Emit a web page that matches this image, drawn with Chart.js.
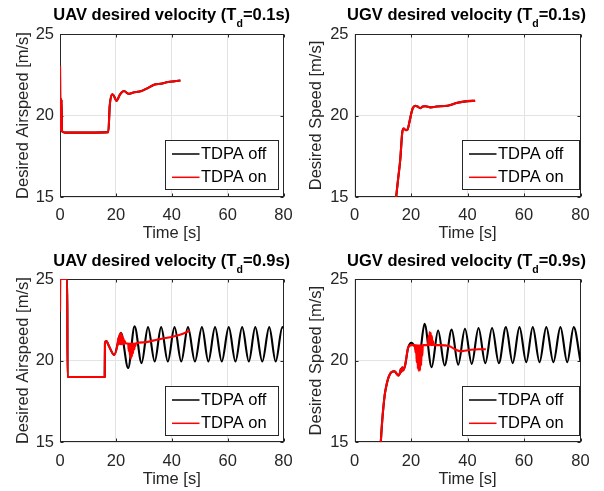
<!DOCTYPE html>
<html>
<head>
<meta charset="utf-8">
<script src="https://cdn.jsdelivr.net/npm/chart.js@4.4.1/dist/chart.umd.min.js"></script>
<style>
  body { margin: 0; background: #fff; width: 604px; height: 491px; position: relative; overflow: hidden;
         font-family: "Liberation Sans", Arial, sans-serif; }
  canvas { position: absolute; }
  .ttl { position: absolute; width: 300px; text-align: center; white-space: nowrap;
         font-weight: bold; font-size: 16.5px; line-height: 16.5px; color: #000; }
  .ttl sub { font-size: 10.5px; vertical-align: -7px; line-height: 0; }
</style>
</head>
<body>
<canvas id="uav01" width="302" height="245" style="left:0;top:0"></canvas>
<canvas id="ugv01" width="302" height="245" style="left:302px;top:0"></canvas>
<canvas id="uav09" width="302" height="246" style="left:0;top:245px"></canvas>
<canvas id="ugv09" width="302" height="246" style="left:302px;top:245px"></canvas>
<div class="ttl" style="left:21.75px;top:6px">UAV desired velocity (T<sub>d</sub>=0.1s)</div>
<div class="ttl" style="left:316.5px;top:6px">UGV desired velocity (T<sub>d</sub>=0.1s)</div>
<div class="ttl" style="left:21.75px;top:252px">UAV desired velocity (T<sub>d</sub>=0.9s)</div>
<div class="ttl" style="left:316.5px;top:252px">UGV desired velocity (T<sub>d</sub>=0.9s)</div>
<script>
// axis ticks
const xTicks = [0, 20, 40, 60, 80];
const yTicks = [15, 20, 25];
const seriesLabels = ['TDPA off', 'TDPA on'];

// UAV, Td = 0.1 s (both runs overlap)
const uav01T = [0, 0.15, 0.35, 0.55, 0.7, 0.9, 2, 10, 17.3, 17.8, 18.7, 19.3, 20.2, 21.5, 22.9, 24.6, 26, 29.2, 31, 33.9, 36, 38.7, 41, 43.1];
const uav01V = [23.05, 19.2, 19.1, 21.0, 19.1, 19.0, 18.95, 18.95, 18.98, 20.6, 21.3, 21.2, 20.9, 21.3, 21.5, 21.33, 21.4, 21.5, 21.65, 21.9, 21.95, 22.05, 22.1, 22.15];

// UGV, Td = 0.1 s (both runs overlap)
const ugv01T = [14.75, 15.5, 16.2, 16.9, 17.4, 18.2, 18.8, 19.5, 20.2, 20.7, 21.5, 22.3, 23.3, 24.2, 25.1, 26.9, 29, 32.9, 36.4, 40, 42.7];
const ugv01V = [15, 16.2, 17.3, 18.95, 19.2, 19.1, 19.15, 19.65, 20.2, 20.47, 20.6, 20.55, 20.45, 20.55, 20.57, 20.5, 20.55, 20.6, 20.78, 20.88, 20.9];

// UAV, Td = 0.9 s
const uav09OffT = [0, 0.05, 2.6, 2.7, 16.0, 16.1, 16.6, 17.5, 19.4, 21.8, 24.4, 26.7, 29.2, 31.5, 33.9, 36.2, 38.6, 41.0, 43.4, 45.8, 48.3, 50.8, 53.1, 55.5, 57.9, 60.4, 62.8, 65.2, 67.6, 69.9, 72.4, 74.9, 77.2, 79.6, 80];
const uav09OffV = [23.0, 25, 25, 19.0, 19.0, 21.1, 21.2, 20.9, 20.35, 21.7, 19.55, 22.1, 19.85, 22.05, 19.95, 22.05, 19.95, 22.05, 19.95, 22.05, 19.95, 22.05, 19.95, 22.05, 19.95, 22.05, 19.95, 22.05, 19.95, 22.05, 19.95, 22.05, 19.95, 22.05, 22.0];
const uav09OnT = [0, 0.05, 2.6, 2.7, 16.0, 16.1, 16.6, 17.5, 19.4,
  20.6, 20.9, 21.1, 21.4, 21.6, 21.85, 22.05, 22.3, 22.5, 22.75, 22.95, 23.2, 23.5,
  24.4, 24.6, 24.8, 25.0, 25.2, 25.35, 25.55, 25.75, 25.95, 26.15, 26.35, 26.6, 26.8, 27.0, 27.2,
  30, 35, 41, 44, 46.4];
const uav09OnV = [23.0, 25, 25, 19.0, 19.0, 21.1, 21.2, 20.9, 20.35,
  21.0, 21.4, 21.0, 21.65, 21.0, 21.7, 21.0, 21.55, 21.02, 21.35, 21.03, 21.2, 21.05,
  21.05, 20.6, 21.05, 20.3, 21.05, 20.1, 21.05, 20.25, 21.05, 20.45, 21.05, 20.7, 21.05, 20.9, 21.07,
  21.12, 21.3, 21.5, 21.65, 21.83];

// UGV, Td = 0.9 s
const ugv09OffT = [9.3, 9.8, 10.7, 11.2, 11.9, 13.1, 14.2, 14.9, 15.6, 16.1, 16.4, 16.6, 16.9, 17.2, 17.9, 19.0, 20.2, 21.2, 22.9, 24.8, 27.3, 29.6, 31.9, 34.4, 36.7, 39.1, 41.5, 43.9, 46.3, 48.7, 51.1, 53.6, 56.0, 58.4, 60.8, 63.1, 65.5, 67.9, 70.4, 72.9, 75.3, 77.6, 80];
const ugv09OffV = [15, 16.3, 17.9, 18.4, 18.9, 19.3, 19.35, 19.2, 19.1, 19.25, 19.5, 19.3, 19.6, 19.4, 19.7, 20.8, 21.1, 20.9, 20.3, 22.25, 19.6, 21.85, 19.7, 21.9, 19.75, 21.95, 19.8, 22.0, 19.85, 22.0, 19.85, 22.05, 19.85, 22.05, 19.9, 22.05, 19.9, 22.05, 19.9, 22.05, 19.9, 22.05, 19.95];
const ugv09OnT = [9.3, 9.8, 10.7, 11.2, 11.9, 13.1, 14.2, 14.9, 15.6, 16.1, 16.4, 16.6, 16.9, 17.2, 17.9, 19.0, 20.2,
  21.4, 21.6, 21.8, 22.0, 22.2, 22.4, 22.6, 22.8, 23.0, 23.2, 23.4, 23.6, 23.8, 24.0, 24.2,
  26.0, 26.2, 26.4, 26.6, 26.8, 27.0, 27.2, 27.4, 27.6, 27.8, 28.0,
  30, 33.5, 35.5, 37.6, 39.5, 41.2, 44, 46.5];
const ugv09OnV = [15, 16.3, 17.9, 18.4, 18.9, 19.3, 19.35, 19.2, 19.1, 19.25, 19.5, 19.3, 19.6, 19.4, 19.7, 20.8, 20.95,
  20.95, 20.5, 20.95, 19.9, 20.95, 19.5, 20.95, 19.35, 20.95, 19.4, 20.95, 19.7, 20.95, 20.3, 20.95,
  20.95, 21.5, 20.95, 21.75, 20.95, 21.7, 20.95, 21.5, 20.95, 21.2, 20.95,
  20.95, 20.9, 20.7, 20.57, 20.62, 20.67, 20.7, 20.7];

Chart.defaults.font.family = '"Liberation Sans", Arial, sans-serif';
Chart.defaults.font.size = 16.5;
Chart.defaults.color = '#262626';

const pts = (T, V) => T.map((t, i) => ({ x: t, y: V[i] }));

// box around the axes with small inward ticks (under the data), then the MATLAB-style legend
const framePlugin = {
  id: 'frame',
  beforeDatasetsDraw(chart) {
    const { ctx, chartArea: a, scales: { x, y } } = chart;
    const L = Math.round(a.left) + 0.5, R = Math.round(a.right) - 0.5;
    const T = Math.round(a.top) + 0.5, B = Math.round(a.bottom) - 0.5;
    ctx.save();
    ctx.strokeStyle = '#262626';
    ctx.lineWidth = 1;
    ctx.beginPath();
    x.ticks.forEach(t => {
      const px = Math.round(x.getPixelForValue(t.value)) + 0.5;
      ctx.moveTo(px, B); ctx.lineTo(px, B - 3);
      ctx.moveTo(px, T); ctx.lineTo(px, T + 3);
    });
    y.ticks.forEach(t => {
      const py = Math.round(y.getPixelForValue(t.value)) + 0.5;
      ctx.moveTo(L, py); ctx.lineTo(L + 3, py);
      ctx.moveTo(R, py); ctx.lineTo(R - 3, py);
    });
    ctx.stroke();
    ctx.strokeRect(L, T, R - L, B - T);
    ctx.restore();
  },
  afterDatasetsDraw(chart, args, opts) {
    const { ctx, chartArea: a } = chart;
    const lr = Math.round(a.right - opts.inset) - 0.5;
    const ll = lr - opts.width;
    const lb = Math.round(a.bottom - opts.bottom) - 0.5;
    const lt = lb - 49;
    ctx.save();
    ctx.fillStyle = '#fff';
    ctx.fillRect(ll, lt, opts.width, 49);
    ctx.strokeStyle = '#262626';
    ctx.lineWidth = 1;
    ctx.strokeRect(ll, lt, opts.width, 49);
    ctx.font = '16.5px "Liberation Sans", Arial, sans-serif';
    ctx.textBaseline = 'middle';
    chart.data.datasets.forEach((ds, i) => {
      const yy = lt + 13.5 + i * 23.3;
      ctx.strokeStyle = ds.borderColor;
      ctx.lineWidth = 1.5;
      ctx.beginPath();
      ctx.moveTo(ll + 6.5, yy); ctx.lineTo(ll + 34, yy);
      ctx.stroke();
      ctx.fillStyle = '#000';
      ctx.fillText(ds.label, ll + 35.5, yy + 0.5);
    });
    ctx.restore();
  }
};

function makePlot(id, offData, onData, yTitle, lay) {
  new Chart(document.getElementById(id), {
    type: 'line',
    data: {
      datasets: [
        { label: seriesLabels[0], data: offData, borderColor: '#000000', order: 1 },
        { label: seriesLabels[1], data: onData, borderColor: '#ff0000', order: 0 }
      ]
    },
    options: {
      responsive: false,
      animation: false,
      events: [],
      layout: { padding: { top: lay.padTop, right: lay.padRight, bottom: 0, left: 0 } },
      elements: {
        point: { radius: 0 },
        line: { borderWidth: 2.1, cubicInterpolationMode: 'monotone', borderJoinStyle: 'round', fill: false }
      },
      plugins: {
        legend: { display: false },
        tooltip: { enabled: false },
        frame: lay.legend
      },
      scales: {
        x: {
          type: 'linear',
          min: xTicks[0],
          max: xTicks[xTicks.length - 1],
          afterBuildTicks: s => { s.ticks = xTicks.map(v => ({ value: v })); },
          afterFit: s => { s.height = lay.xH; },
          ticks: { padding: 9, maxRotation: 0, autoSkip: false },
          grid: { color: '#e3e3e3', drawTicks: false },
          border: { display: false },
          title: { display: true, text: 'Time [s]', padding: { top: 0, bottom: 2 } }
        },
        y: {
          type: 'linear',
          min: yTicks[0],
          max: yTicks[yTicks.length - 1],
          afterBuildTicks: s => { s.ticks = yTicks.map(v => ({ value: v })); },
          afterFit: s => { s.width = lay.yW; },
          ticks: { padding: 6 },
          grid: { color: '#e3e3e3', drawTicks: false },
          border: { display: false },
          title: { display: true, text: yTitle, padding: { top: lay.yTitlePad, bottom: 0 } }
        }
      }
    },
    plugins: [framePlugin]
  });
}

makePlot('uav01', pts(uav01T, uav01V), pts(uav01T, uav01V), 'Desired Airspeed [m/s]',
  { padTop: 34, padRight: 18.5, xH: 48, yW: 60, yTitlePad: 13.3, legend: { inset: 4.5, width: 113, bottom: 7 } });
makePlot('ugv01', pts(ugv01T, ugv01V), pts(ugv01T, ugv01V), 'Desired Speed [m/s]',
  { padTop: 34, padRight: 23.5, xH: 48, yW: 52.5, yTitlePad: 5, legend: { inset: 0.5, width: 117, bottom: 7 } });
makePlot('uav09', pts(uav09OffT, uav09OffV), pts(uav09OnT, uav09OnV), 'Desired Airspeed [m/s]',
  { padTop: 34, padRight: 18.5, xH: 48.7, yW: 60, yTitlePad: 13.3, legend: { inset: 4.5, width: 113, bottom: 6.6 } });
makePlot('ugv09', pts(ugv09OffT, ugv09OffV), pts(ugv09OnT, ugv09OnV), 'Desired Speed [m/s]',
  { padTop: 34, padRight: 23.5, xH: 48.7, yW: 52.5, yTitlePad: 5, legend: { inset: 0.5, width: 117, bottom: 6.6 } });
</script>
</body>
</html>
